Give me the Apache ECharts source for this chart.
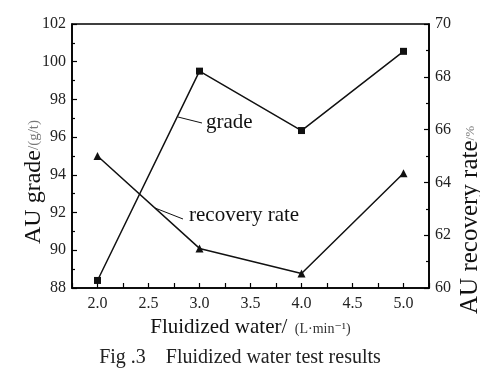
<!DOCTYPE html>
<html><head><meta charset="utf-8">
<script src="https://cdn.jsdelivr.net/npm/echarts@6/dist/echarts.min.js"></script>
<style>html,body{margin:0;padding:0;background:#fff}#c{width:480px;height:372px}</style>
</head><body><div id="c"></div>
<script>
const waterFlow = [2.0, 3.0, 4.0, 5.0];
const gradeValues = [88.4, 99.5, 96.35, 100.55];
const recoveryValues = [65.0, 61.5, 60.55, 64.35];
const xTicks = [2.0, 2.5, 3.0, 3.5, 4.0, 4.5, 5.0];
const leftTicks = [88, 90, 92, 94, 96, 98, 100, 102];
const rightTicks = [60, 62, 64, 66, 68, 70];

const F = '"Liberation Serif", "DejaVu Serif", serif';
const chart = echarts.init(document.getElementById('c'));
const axisCommon = {
  axisLine: {show: true, lineStyle: {color: '#000', width: 1.6}},
  axisTick: {show: true, inside: true, length: 5, lineStyle: {color: '#000', width: 1.2}},
  minorTick: {show: true, splitNumber: 2, length: 3, lineStyle: {color: '#000', width: 1.2}},
  splitLine: {show: false},
  axisLabel: {color: '#222', fontFamily: F, fontSize: 16, margin: 6}
};
chart.setOption({
  animation: false,
  grid: {left: 72, right: 51, top: 24, bottom: 84, outerBoundsMode: 'none', containLabel: false,
         show: true, borderColor: '#000', borderWidth: 1.6, backgroundColor: 'transparent'},
  xAxis: Object.assign({}, axisCommon, {
    type: 'value', min: 1.75, max: 5.25, interval: 0.25,
    axisLabel: Object.assign({}, axisCommon.axisLabel, {
      margin: 8,
      formatter: v => xTicks.some(t => Math.abs(t - v) < 1e-6) ? v.toFixed(1) : ''
    }),
    minorTick: {show: false},
    name: '{a|Fluidized water/}{b| (L·min⁻¹)}',
    nameLocation: 'middle', nameGap: 26,
    nameTextStyle: {rich: {
      a: {fontFamily: F, fontSize: 21, color: '#111'},
      b: {fontFamily: F, fontSize: 14, color: '#333', padding: [4, 0, 0, 4]}
    }}
  }),
  yAxis: [
    Object.assign({}, axisCommon, {
      type: 'value', min: 88, max: 102, interval: 2, position: 'left',
      name: '{a|AU grade}{b|/(g/t)}', nameLocation: 'middle', nameRotate: 90, nameGap: 26,
      nameMoveOverlap: false,
      nameTextStyle: {padding: [0, 52, 0, 0], rich: {
        a: {fontFamily: F, fontSize: 24, color: '#111'},
        b: {fontFamily: F, fontSize: 15, color: '#777'}
      }}
    }),
    Object.assign({}, axisCommon, {
      type: 'value', min: 60, max: 70, interval: 2, position: 'right',
      name: '{a|AU recovery rate}{b|/%}', nameLocation: 'middle', nameRotate: 90, nameGap: 29,
      nameMoveOverlap: false,
      nameTextStyle: {padding: [0, 128, 0, 0], rich: {
        a: {fontFamily: F, fontSize: 25, color: '#111'},
        b: {fontFamily: F, fontSize: 13, color: '#777'}
      }}
    })
  ],
  series: [
    {type: 'line', yAxisIndex: 0, data: waterFlow.map((x, i) => [x, gradeValues[i]]),
     symbol: 'rect', symbolSize: 7, itemStyle: {color: '#111'}, lineStyle: {color: '#111', width: 1.5}},
    {type: 'line', yAxisIndex: 1, data: waterFlow.map((x, i) => [x, recoveryValues[i]]),
     symbol: 'triangle', symbolSize: 8, itemStyle: {color: '#111'}, lineStyle: {color: '#111', width: 1.5}}
  ],
  graphic: [
    {type: 'line', shape: {x1: 178, y1: 117, x2: 202, y2: 123}, style: {stroke: '#111', lineWidth: 1}},
    {type: 'text', left: 206, top: 112, style: {text: 'grade', font: '21px ' + F, fill: '#111'}},
    {type: 'line', shape: {x1: 155, y1: 208, x2: 183, y2: 219}, style: {stroke: '#111', lineWidth: 1}},
    {type: 'text', left: 189, top: 205, style: {text: 'recovery rate', font: '21px ' + F, fill: '#111'}},
    {type: 'text', left: 'center', top: 348, style: {text: 'Fig .3    Fluidized water test results', font: '20px ' + F, fill: '#222'}}
  ]
});
</script></body></html>
